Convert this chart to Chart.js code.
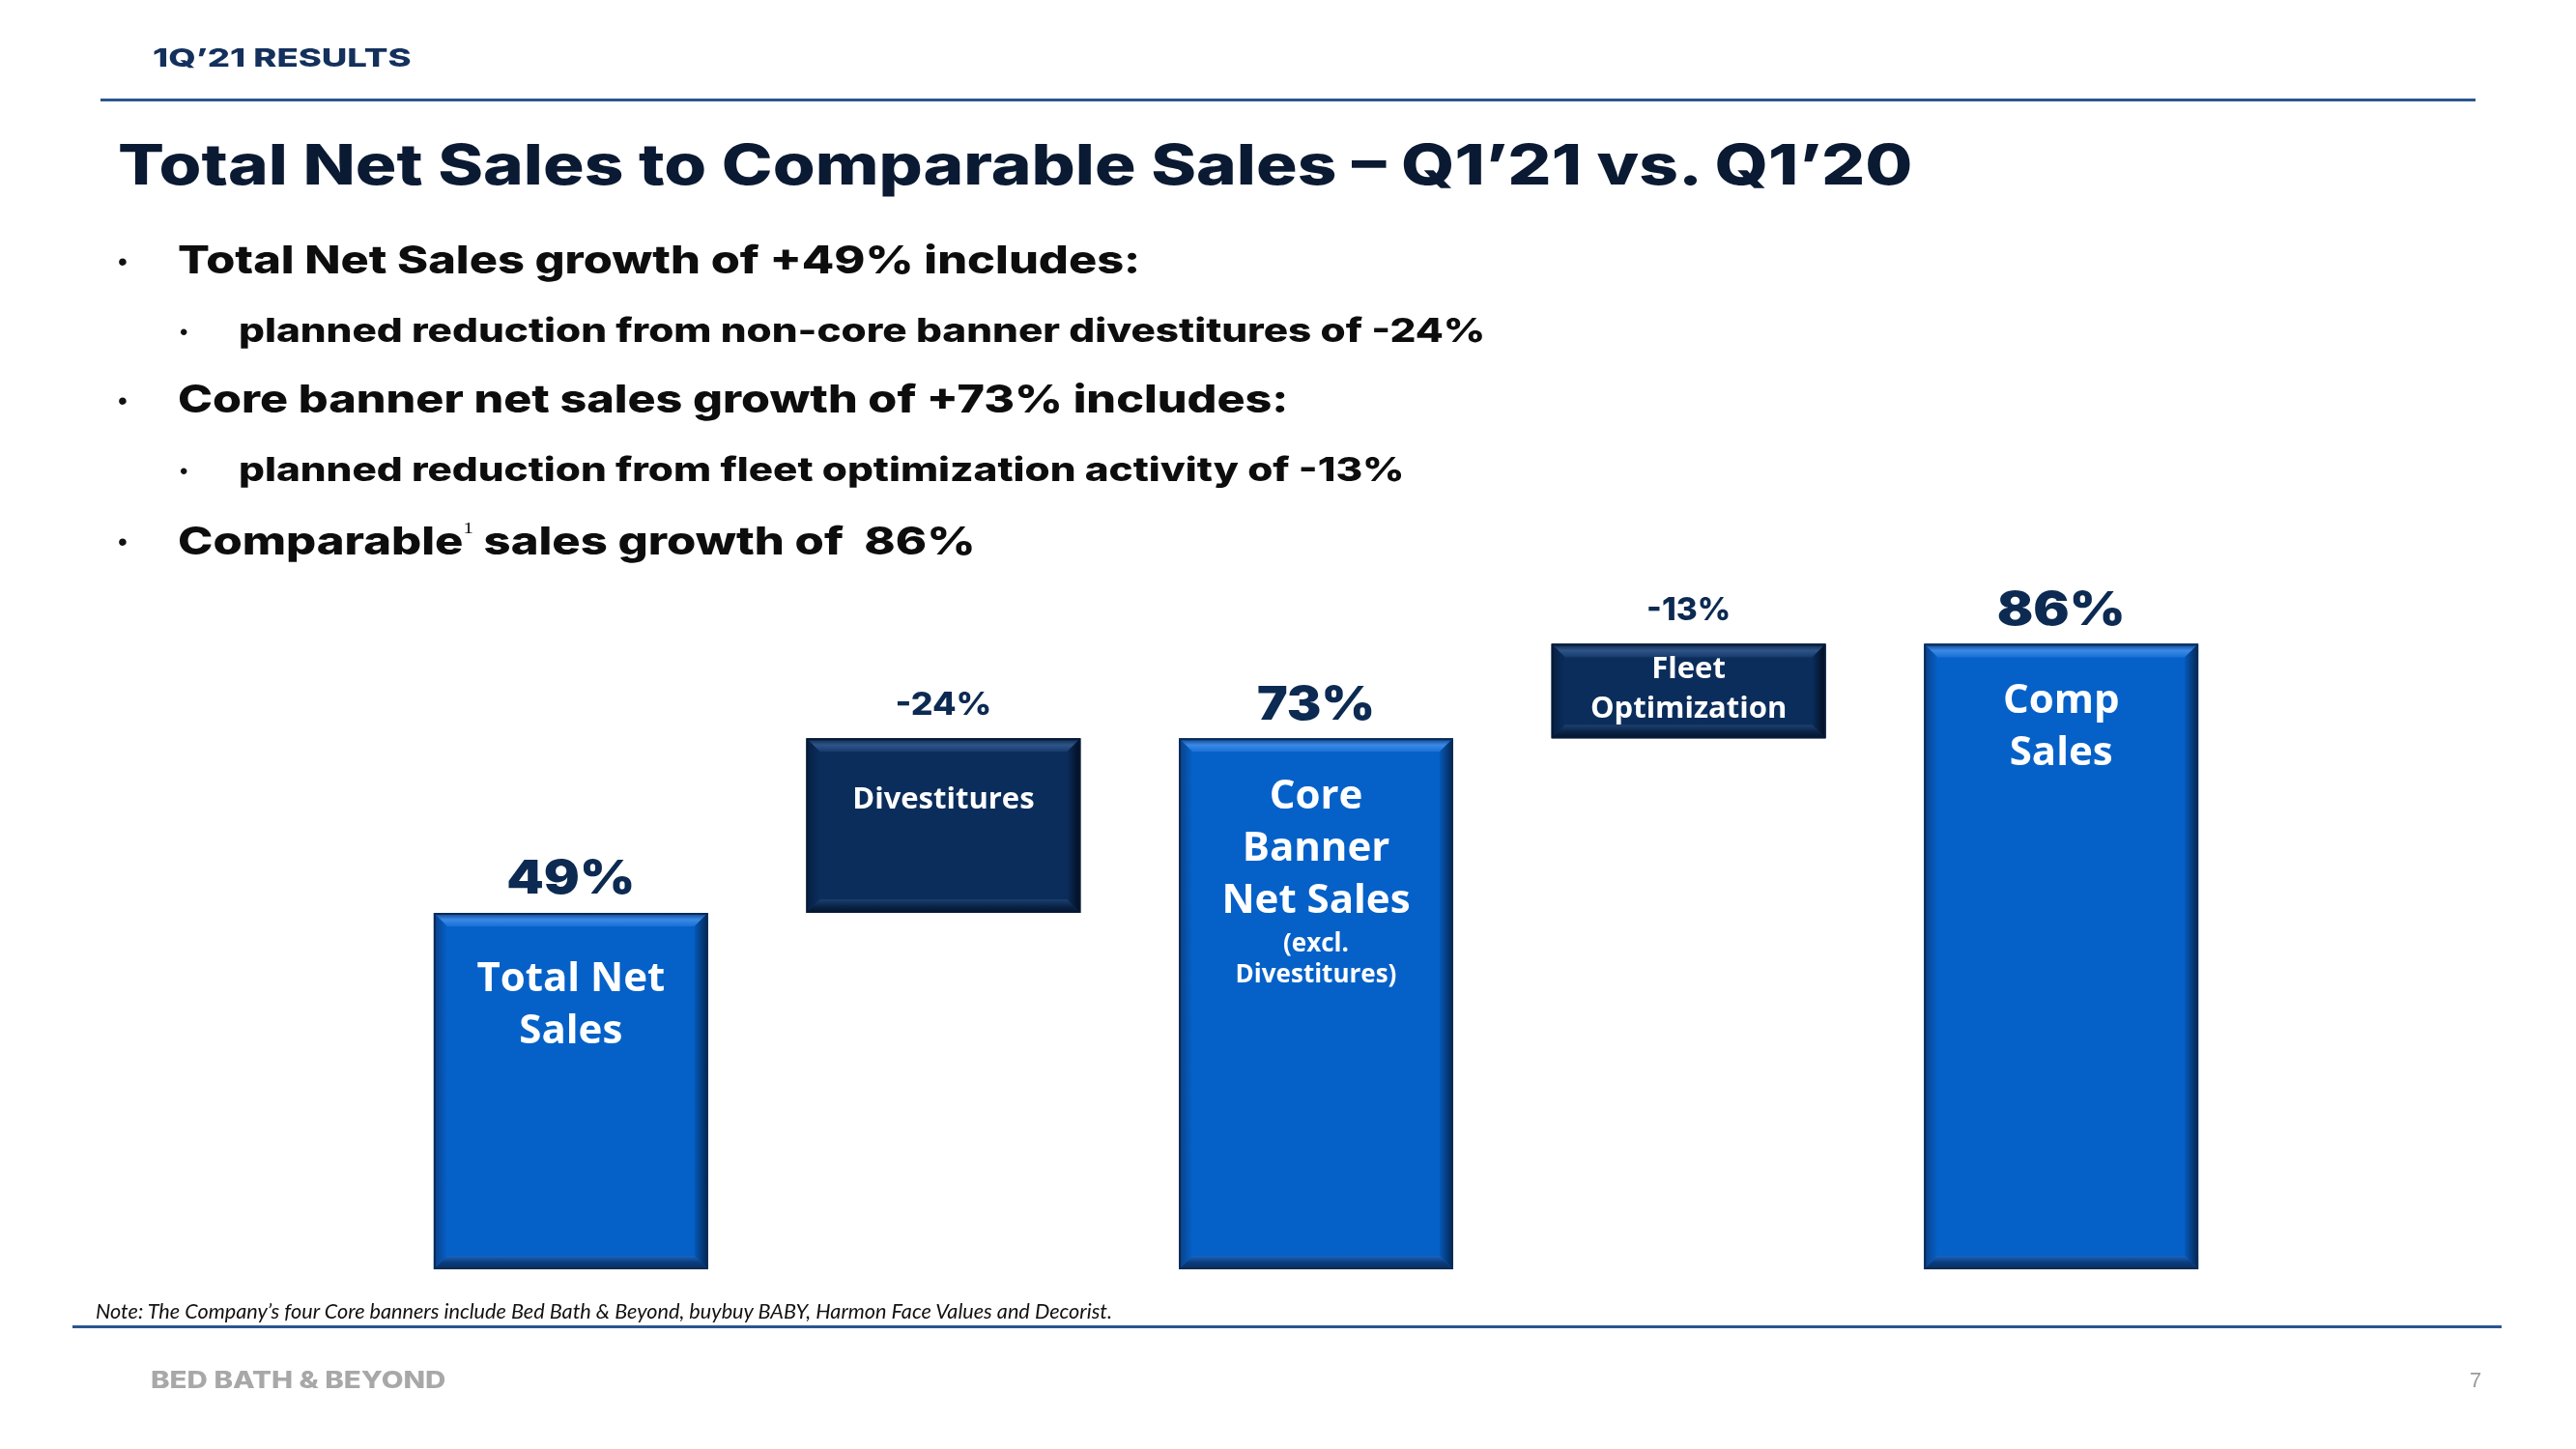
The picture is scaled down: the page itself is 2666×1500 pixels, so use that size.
<!DOCTYPE html>
<html>
<head>
<meta charset="utf-8">
<script src="https://cdn.jsdelivr.net/npm/chart.js@4.4.1/dist/chart.umd.min.js"></script>
<style>
  html, body { margin:0; padding:0; background:#fff; }
  #slide { position:relative; width:2666px; height:1500px; overflow:hidden; background:#fff; }
  #chart { position:absolute; left:0; top:0; }
  .t { position:absolute; white-space:nowrap; transform:translateY(-50%); transform-origin:left center; line-height:1; }
  .geo { font-family:Inter, "DejaVu Sans", sans-serif; font-weight:800; }
  .rule { position:absolute; height:3px; background:#2c5592; }
  .dot { font-family:"Liberation Sans", sans-serif; color:#111; }
</style>
</head>
<body>
<div id="slide">
  <canvas id="chart" width="2666" height="1500"></canvas>

  <div class="t geo" data-w="267" style="left:158px; top:60px; font-size:26px; color:#14305c;">1Q’21 RESULTS</div>
  <div class="rule" style="left:104px; top:102px; width:2458px;"></div>

  <div class="t geo" data-w="1858" style="left:122px; top:170px; font-size:58px; color:#0b1a33;">Total Net Sales to Comparable Sales – Q1’21 vs. Q1’20</div>

  <div class="t dot" style="left:122px; top:271px; font-size:28px;">•</div>
  <div class="t geo" data-w="996" style="left:184px; top:269px; font-size:40px; color:#0d0d0d;">Total Net Sales growth of +49% includes:</div>
  <div class="t dot" style="left:186px; top:344px; font-size:24px;">•</div>
  <div class="t geo" data-w="1290" style="left:247px; top:342px; font-size:34px; color:#0d0d0d;">planned reduction from non-core banner divestitures of -24%</div>
  <div class="t dot" style="left:122px; top:415px; font-size:28px;">•</div>
  <div class="t geo" data-w="1149" style="left:184px; top:413px; font-size:40px; color:#0d0d0d;">Core banner net sales growth of +73% includes:</div>
  <div class="t dot" style="left:186px; top:488px; font-size:24px;">•</div>
  <div class="t geo" data-w="1206" style="left:247px; top:486px; font-size:34px; color:#0d0d0d;">planned reduction from fleet optimization activity of -13%</div>
  <div class="t dot" style="left:122px; top:561px; font-size:28px;">•</div>
  <div class="t geo" data-w="826" style="left:184px; top:559px; font-size:40px; color:#0d0d0d;">Comparable<span style="font-family:'Liberation Serif',serif; font-weight:400; font-size:17px; vertical-align:22px;">1</span> sales growth of&nbsp; 86%</div>

  <div class="t" data-w="1052" style="left:99px; top:1357px; font-family:Lato, sans-serif; font-style:italic; font-size:22px; color:#111;">Note: The Company’s four Core banners include Bed Bath &amp; Beyond, buybuy BABY, Harmon Face Values and Decorist.</div>
  <div class="rule" style="left:75px; top:1372px; width:2514px;"></div>
  <div class="t geo" data-w="305" style="left:156px; top:1429px; font-size:24px; color:#a8a8a8;">BED BATH &amp; BEYOND</div>
  <div class="t" style="left:2556px; top:1429px; font-family:'Liberation Sans', sans-serif; font-size:22px; color:#9a9a9a;">7</div>
</div>

<script>
// waterfall: each bar floats from start to end (in % growth)
const categories = ['Total Net Sales', 'Divestitures', 'Core Banner Net Sales', 'Fleet Optimization', 'Comp Sales'];
const barStart = [0, 49, 0, 73, 0];
const barEnd = [49, 73, 73, 86, 86];
const valueLabels = ['49%', '-24%', '73%', '-13%', '86%'];
const innerLabels = [
  ['Total Net', 'Sales'],
  ['Divestitures'],
  ['Core', 'Banner', 'Net Sales', '(excl.', 'Divestitures)'],
  ['Fleet', 'Optimization'],
  ['Comp', 'Sales']
];

// styling
const isReduction = [false, true, false, true, false];
const fillLight = '#0561c8', fillDark = '#0b2d5b';
const innerTop = [69, 64, 61, 27, 60];
const labelWidth = [133, 100, 122, 87, 133]; // the slide font is very wide

function innerStyle(i, j){
  if (i === 2 && j >= 3) return { size: 26, gap: j === 3 ? 44 : 32 };
  if (i === 1) return { size: 31, gap: 0 };
  if (i === 3) return { size: 31, gap: 41 };
  return { size: 42, gap: 54 };
}

// stretch html text to the widths on the slide
function fitText(){
  document.querySelectorAll('[data-w]').forEach(el => {
    const k = +el.dataset.w / el.offsetWidth;
    el.style.transform = `translateY(-50%) scaleX(${k})`;
  });
}

const bevelPlugin = {
  id: 'bevel',
  afterDatasetsDraw(chart){
    const ctx = chart.ctx;
    const meta = chart.getDatasetMeta(0);
    meta.data.forEach((bar, i) => {
      const p = bar.getProps(['x', 'y', 'base', 'width'], true);
      const l = p.x - p.width / 2, r = p.x + p.width / 2;
      const top = Math.min(p.y, p.base), bot = Math.max(p.y, p.base);
      const b = 14;
      const dark = isReduction[i];
      ctx.save();
      // top bevel
      let g = ctx.createLinearGradient(0, top, 0, top + b);
      g.addColorStop(0, dark ? '#0a2548' : '#0b3f86');
      g.addColorStop(0.5, dark ? '#2f5488' : '#3a8ae6');
      g.addColorStop(1, dark ? '#163a6c' : '#1a6fd6');
      ctx.fillStyle = g;
      ctx.beginPath(); ctx.moveTo(l, top); ctx.lineTo(r, top); ctx.lineTo(r - b, top + b); ctx.lineTo(l + b, top + b); ctx.closePath(); ctx.fill();
      // right shadow
      g = ctx.createLinearGradient(r - b, 0, r, 0);
      g.addColorStop(0, dark ? '#0b2d5b' : '#0558b8');
      g.addColorStop(1, dark ? '#020c1c' : '#05254e');
      ctx.fillStyle = g;
      ctx.beginPath(); ctx.moveTo(r, top); ctx.lineTo(r, bot); ctx.lineTo(r - b, bot - b); ctx.lineTo(r - b, top + b); ctx.closePath(); ctx.fill();
      // left edge
      g = ctx.createLinearGradient(l, 0, l + b, 0);
      g.addColorStop(0, dark ? '#061f42' : '#0b3f86');
      g.addColorStop(1, dark ? '#0b2d5b' : '#0561c8');
      ctx.fillStyle = g;
      ctx.beginPath(); ctx.moveTo(l, top); ctx.lineTo(l + b, top + b); ctx.lineTo(l + b, bot - b); ctx.lineTo(l, bot); ctx.closePath(); ctx.fill();
      // bottom bevel
      g = ctx.createLinearGradient(0, bot - b, 0, bot);
      g.addColorStop(0, dark ? '#1d406f' : '#1b64c0');
      g.addColorStop(0.5, dark ? '#0a2448' : '#0a3c7c');
      g.addColorStop(1, dark ? '#03132a' : '#0c2e5c');
      ctx.fillStyle = g;
      ctx.beginPath(); ctx.moveTo(l, bot); ctx.lineTo(r, bot); ctx.lineTo(r - b, bot - b); ctx.lineTo(l + b, bot - b); ctx.closePath(); ctx.fill();
      // outline
      ctx.strokeStyle = dark ? '#061a36' : '#0a2b57';
      ctx.lineWidth = 2;
      ctx.strokeRect(l + 1, top + 1, p.width - 2, bot - top - 2);

      // value label above, fitted to the slide's width
      const big = !isReduction[i];
      ctx.fillStyle = '#0c2a52';
      ctx.textAlign = 'center';
      ctx.textBaseline = 'middle';
      ctx.font = (big ? '900 48px' : '800 33px') + ' Inter, "DejaVu Sans", sans-serif';
      const w = ctx.measureText(valueLabels[i]).width;
      ctx.save();
      ctx.translate(p.x, top - 34);
      ctx.scale(labelWidth[i] / w, 1);
      ctx.fillText(valueLabels[i], 0, 0);
      ctx.restore();

      // text inside bar
      ctx.fillStyle = '#ffffff';
      let y = top + innerTop[i];
      innerLabels[i].forEach((line, j) => {
        const s = innerStyle(i, j);
        if (j > 0) y += s.gap;
        ctx.font = `bold ${s.size}px "Open Sans", sans-serif`;
        ctx.fillText(line, p.x, y);
      });
      ctx.restore();
    });
  }
};

function draw(){
  fitText();
  new Chart(document.getElementById('chart').getContext('2d'), {
    type: 'bar',
    data: {
      labels: categories,
      datasets: [{
        data: categories.map((c, i) => [barStart[i], barEnd[i]]),
        backgroundColor: isReduction.map(d => d ? fillDark : fillLight),
        borderWidth: 0,
        categoryPercentage: 1,
        barPercentage: 0.736
      }]
    },
    options: {
      responsive: false,
      devicePixelRatio: 1,
      animation: false,
      layout: { padding: { left: 398, right: 340, top: 561, bottom: 186 } },
      plugins: { legend: { display: false }, tooltip: { enabled: false } },
      scales: {
        x: { display: false },
        y: { display: false, min: 0, max: 100 }
      }
    },
    plugins: [bevelPlugin]
  });
}
document.fonts.ready.then(draw);
</script>
</body>
</html>
